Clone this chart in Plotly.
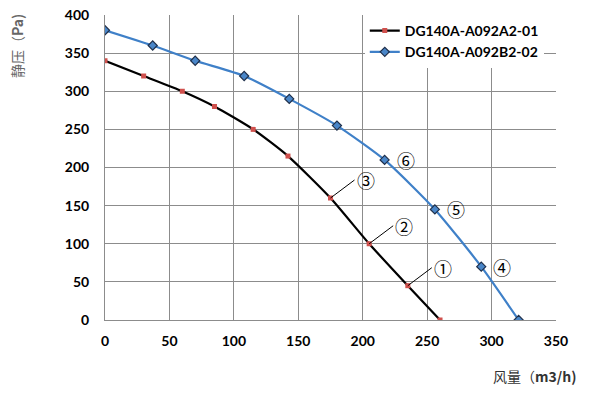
import plotly.graph_objects as go

flow_a = [0, 30, 60, 85, 115, 142, 175, 205, 235, 260]
pres_a = [340, 320, 300, 280, 250, 215, 160, 100, 45, 0]
flow_b = [0, 37, 70, 108, 143, 180, 217, 256, 292, 321]
pres_b = [380, 360, 340, 320, 290, 255, 210, 145, 70, 0]
name_a = "DG140A-A092A2-01"
name_b = "DG140A-A092B2-02"

labels_a = [(8, "①"), (7, "②"), (6, "③")]
labels_b = [(8, "④"), (7, "⑤"), (6, "⑥")]

tick_font = dict(family="Lato, 'Liberation Sans', sans-serif", size=14, color="black", weight="bold")
circ_font = dict(family="'Noto Sans CJK SC', 'DejaVu Serif'", size=18, color="black")

fig = go.Figure()
fig.add_trace(go.Scatter(
    x=flow_a, y=pres_a, name=name_a, mode="lines+markers",
    line=dict(color="black", width=2.2, shape="spline", smoothing=0.6),
    marker=dict(symbol="square", size=5, color="#D0504D", line=dict(width=0)),
))
fig.add_trace(go.Scatter(
    x=flow_b, y=pres_b, name=name_b, mode="lines+markers",
    line=dict(color="#3F80C8", width=2.2, shape="spline", smoothing=0.6),
    marker=dict(symbol="diamond", size=7, color="#4A86C8", line=dict(width=1.2, color="#1F2F4A")),
))

ann = []
for i, t in labels_a:
    ann.append(dict(x=flow_a[i], y=pres_a[i], xref="x", yref="y", text=t,
                    showarrow=True, arrowhead=0, arrowwidth=1, arrowcolor="black",
                    ax=24, ay=-18, xanchor="left", yanchor="middle", font=circ_font))
for i, t in labels_b:
    ann.append(dict(x=flow_b[i], y=pres_b[i], xref="x", yref="y", text=t,
                    showarrow=False, xshift=10, xanchor="left", yanchor="middle",
                    font=circ_font))

W, H = 600, 395
L, T, R, B = 105, 15, 44, 75
pw, ph = W - L - R, H - T - B

def px(xp, yp):
    return (xp - L) / pw, (H - yp - B) / ph

xx, xy = px(578, 376)
ann.append(dict(x=xx, y=xy, xref="paper", yref="paper", text="风量（<b>m3/h)</b>",
                showarrow=False, xanchor="right", yanchor="middle",
                font=dict(family="'Noto Sans CJK SC', Lato", size=14, color="#333333")))
yx, yy = px(17, 46)
ann.append(dict(x=yx, y=yy, xref="paper", yref="paper", text="静压（<b>Pa)</b>",
                showarrow=False, textangle=-90, xanchor="center", yanchor="middle",
                font=dict(family="'Noto Sans CJK SC', Lato", size=14, color="#666666")))

fig.update_layout(
    width=W, height=H,
    margin=dict(l=L, r=R, t=T, b=B, autoexpand=False),
    paper_bgcolor="white", plot_bgcolor="white",
    showlegend=True,
    legend=dict(x=0.576, y=1.0, xanchor="left", yanchor="top",
                bgcolor="white", borderwidth=0,
                font=dict(family="Lato, 'Liberation Sans', sans-serif", size=14, color="black", weight="bold"),
                tracegroupgap=0, itemwidth=30),
    annotations=ann,
    xaxis=dict(range=[0, 350], dtick=50, showgrid=True, gridcolor="#8c8c8c", gridwidth=1,
               showline=True, linecolor="#8c8c8c", zeroline=False, ticks="", automargin=False,
               tickfont=tick_font, ticklabelstandoff=8),
    yaxis=dict(range=[0, 400], dtick=50, showgrid=True, gridcolor="#8c8c8c", gridwidth=1,
               showline=True, linecolor="#8c8c8c", zeroline=False, ticks="", automargin=False,
               tickfont=tick_font, ticklabelstandoff=12),
)
fig.write_html("out.html", config={"displayModeBar": False},
               post_script="document.body.style.margin='0';")
